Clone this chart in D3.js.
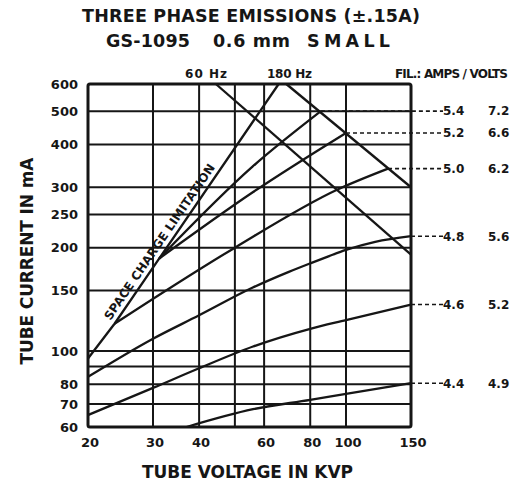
<!DOCTYPE html>
<html>
<head>
<meta charset="utf-8">
<script src="https://cdn.jsdelivr.net/npm/d3@7"></script>
<style>
  body { margin: 0; background: #fff; }
  svg { display: block; font-family: "DejaVu Sans", sans-serif; font-weight: bold; }
</style>
</head>
<body>
<div id="chart"></div>
<script>
// ######################## Data #############################################
const kvpTicks = [20, 30, 40, 60, 80, 100, 150];
const kvpGrid = [30, 40, 50, 60, 80, 100];
const maTicks = [600, 500, 400, 300, 250, 200, 150, 100, 80, 70, 60];
const maGrid = [70, 80, 90, 100, 150, 200, 250, 300, 400, 500];

// [kVp, mA]
const spaceCharge = [[20, 95], [23.6, 120], [31.2, 186], [65.7, 600]];
const limit60Hz = [[44.4, 600], [150, 191]];
const limit180Hz = [[68.9, 600], [150, 300]];

const filamentAmps = ["5.4", "5.2", "5.0", "4.8", "4.6", "4.4"];
const filamentVolts = ["7.2", "6.6", "6.2", "5.6", "5.2", "4.9"];
const emission54 = [[31.2, 186], [55.9, 345], [85.5, 500]];
const emission52 = [[31.2, 186], [55.9, 290], [100, 432]];
const emission50 = [[23.6, 120], [50, 200], [95.2, 296], [130, 340]];
const emission48 = [[20, 84], [30, 108.5], [40, 127], [55.9, 153], [70, 170], [80, 180], [90, 189], [100, 197], [120, 208], [150, 216]];
const emission46 = [[20, 65], [30, 78], [40, 89], [56, 103], [80, 116], [100, 123], [150, 136.5]];
const emission44 = [[37, 60], [56, 67.6], [80, 72], [100, 75], [150, 80.5]];
const emissions = [emission54, emission52, emission50, emission48, emission46, emission44];

// ######################## Chart #############################################
const width = 531, height = 483;
const ink = "#161616";

const svg = d3.select("#chart").append("svg")
    .attr("width", width)
    .attr("height", height);

const x = d3.scaleLog().domain([20, 150]).range([88, 411]);
const y = d3.scaleLog().domain([60, 600]).range([427, 84]);

const line = d3.line()
    .x(d => x(d[0]))
    .y(d => y(d[1]))
    .curve(d3.curveMonotoneX);

// grid
svg.append("g").selectAll("line")
    .data(kvpGrid)
    .join("line")
    .attr("x1", d => x(d)).attr("x2", d => x(d))
    .attr("y1", y(600)).attr("y2", y(60))
    .attr("stroke", ink).attr("stroke-width", 2);

svg.append("g").selectAll("line")
    .data(maGrid)
    .join("line")
    .attr("x1", x(20)).attr("x2", x(150))
    .attr("y1", d => y(d)).attr("y2", d => y(d))
    .attr("stroke", ink).attr("stroke-width", 2);

svg.append("rect")
    .attr("x", x(20)).attr("y", y(600))
    .attr("width", x(150) - x(20)).attr("height", y(60) - y(600))
    .attr("rx", 2)
    .attr("fill", "none").attr("stroke", ink).attr("stroke-width", 3);

// limit lines
const plot = svg.append("g")
    .attr("fill", "none").attr("stroke", ink).attr("stroke-width", 2.3);

[spaceCharge, limit60Hz, limit180Hz].forEach(d => {
    plot.append("path").datum(d).attr("d", d3.line().x(p => x(p[0])).y(p => y(p[1])));
});

// emission curves
plot.selectAll(".emission")
    .data(emissions)
    .join("path")
    .attr("class", "emission")
    .attr("d", line);

// dashed leaders to the filament labels
const labelX = 443;
svg.append("g").selectAll("line")
    .data(emissions)
    .join("line")
    .attr("x1", d => x(d[d.length - 1][0]))
    .attr("x2", labelX)
    .attr("y1", d => y(d[d.length - 1][1]))
    .attr("y2", d => y(d[d.length - 1][1]))
    .attr("stroke", ink).attr("stroke-width", 1.6)
    .attr("stroke-dasharray", "4,3");

svg.append("g").selectAll("text")
    .data(emissions)
    .join("text")
    .attr("x", labelX)
    .attr("y", d => y(d[d.length - 1][1]))
    .attr("dy", "0.36em")
    .attr("font-size", 12)
    .attr("fill", ink)
    .text((d, i) => filamentAmps[i]);

svg.append("g").selectAll("text")
    .data(emissions)
    .join("text")
    .attr("x", 488)
    .attr("y", d => y(d[d.length - 1][1]))
    .attr("dy", "0.36em")
    .attr("font-size", 12)
    .attr("fill", ink)
    .text((d, i) => filamentVolts[i]);

// space charge label, laid along the line
const p0 = [x(spaceCharge[1][0]), y(spaceCharge[1][1])];
const p1 = [x(spaceCharge[3][0]), y(spaceCharge[3][1])];
const angle = Math.atan2(p1[1] - p0[1], p1[0] - p0[0]) * 180 / Math.PI;
const t = 0.32;
svg.append("text")
    .attr("transform", `translate(${p0[0] + t * (p1[0] - p0[0])},${p0[1] + t * (p1[1] - p0[1])}) rotate(${angle})`)
    .attr("dy", -5)
    .attr("text-anchor", "middle")
    .attr("font-size", 12)
    .attr("textLength", 186)
    .attr("fill", ink)
    .text("SPACE CHARGE LIMITATION");

// axes tick labels
svg.append("g").selectAll("text")
    .data(kvpTicks)
    .join("text")
    .attr("x", d => x(d) + 2)
    .attr("y", 447)
    .attr("text-anchor", "middle")
    .attr("font-size", 13)
    .attr("fill", ink)
    .text(d => d);

svg.append("g").selectAll("text")
    .data(maTicks)
    .join("text")
    .attr("x", 78)
    .attr("y", d => y(d))
    .attr("dy", "0.36em")
    .attr("text-anchor", "end")
    .attr("font-size", 13)
    .attr("fill", ink)
    .text(d => d);

// top labels
const topLabels = svg.append("g").attr("font-size", 12).attr("fill", ink);
topLabels.append("text").attr("x", 185).attr("y", 78).attr("textLength", 42).text("60 Hz");
topLabels.append("text").attr("x", 267).attr("y", 78).attr("textLength", 45).text("180 Hz");
topLabels.append("text").attr("x", 395).attr("y", 78).attr("textLength", 113).text("FIL.: AMPS / VOLTS");

// titles
const titles = svg.append("g").attr("font-size", 17.5).attr("fill", ink);
titles.append("text")
    .attr("x", 82).attr("y", 22)
    .attr("textLength", 338)
    .text("THREE PHASE EMISSIONS (±.15A)");
titles.append("text")
    .attr("x", 106).attr("y", 47)
    .attr("textLength", 84)
    .text("GS-1095");
titles.append("text")
    .attr("x", 213).attr("y", 47)
    .attr("textLength", 77)
    .text("0.6 mm");
titles.append("text")
    .attr("x", 307).attr("y", 47)
    .attr("textLength", 83)
    .text("SMALL");

svg.append("text")
    .attr("x", 142).attr("y", 478)
    .attr("font-size", 17).attr("fill", ink)
    .attr("textLength", 211)
    .text("TUBE VOLTAGE IN KVP");

svg.append("text")
    .attr("transform", "translate(33,261) rotate(-90)")
    .attr("text-anchor", "middle")
    .attr("font-size", 17).attr("fill", ink)
    .attr("textLength", 207)
    .text("TUBE CURRENT IN mA");
</script>
</body>
</html>
